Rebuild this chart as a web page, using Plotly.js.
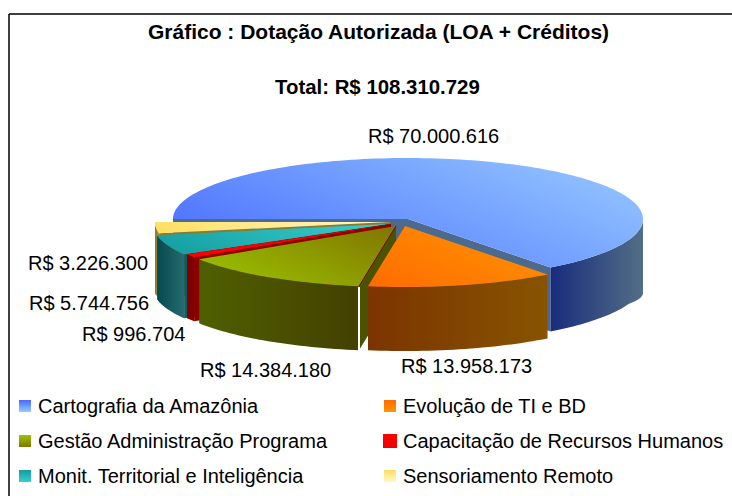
<!DOCTYPE html>
<html><head><meta charset="utf-8">
<script src="https://cdn.plot.ly/plotly-3.0.1.min.js"></script>
<style>html,body{margin:0;padding:0;background:#fff;overflow:hidden}</style>
</head><body><div id="chart" style="width:732px;height:496px"></div>
<script>
// ---- data ----
const categories = ["Cartografia da Amazônia","Evolução de TI e BD","Gestão Administração Programa","Capacitação de Recursos Humanos","Monit. Territorial e Inteligência","Sensoriamento Remoto"];
const values = [70000616,13958173,14384180,996704,5744756,3226300];
const titleLine = "Gráfico : Dotação Autorizada (LOA + Créditos)";
const totalLine = "Total: R$ 108.310.729";

// ---- styles / geometry ----
const topLow  = ["#4569ff","#ff6c00","#9cc600","#ff0000","#159c9f","#ffdf60"];
const topHigh = ["#98caff","#ff9600","#807600","#ee0000","#36cfcf","#fff8c4"];
const rimLow  = ["#182c7c","#7c3400","#4f6000","#800000","#064850","#8a7628"];
const rimHigh = ["#536e86","#875400","#444000","#800000","#256c6e","#a89440"];
const sideCol = ["#4d6a8c","#7c4000","#4a5400","#8b0000","#125c60","#8a7a30"];
const apex = [[408,219],[405,226],[396,226],[391,224],[388,224],[390,222]];
const rx = 235, ry = 61, depth = 64, startAngle = 180;
const labelPos = [[433,136],[466,366],[265,370],[133.5,334],[89,303],[88,263]];
const legendPos = [[25,406],[390,406],[25,441],[390,441],[25,476],[390,476]];
const FONT = "Liberation Sans, Arial, sans-serif";

const total = values.reduce((a,b)=>a+b,0);
const money = v => "R$ " + String(v).replace(/\B(?=(\d{3})+$)/g,".");
const rad = d => d*Math.PI/180;

let a = startAngle;
const slices = values.map((v,i)=>{const s={i,a0:a,a1:a+v/total*360,c:apex[i]};a=s.a1;return s;});

function extra(deg){ // the wall looks taller where it turns at the far left and right
  const n=((deg%360)+360)%360;
  const d=Math.min(n,360-n), w=Math.abs(180-n);
  return 10*Math.max(0,1-d/20)+7*Math.max(0,1-w/10);
}
function arc(s,from,to,dy){
  const n=Math.max(2,Math.ceil(Math.abs(to-from)/1.5)),xs=[],ys=[];
  for(let k=0;k<=n;k++){const t=from+(to-from)*k/n;
    xs.push(s.c[0]+rx*Math.cos(rad(t)));
    ys.push(s.c[1]+ry*Math.sin(rad(t))+(dy?depth+extra(t):0));}
  return [xs,ys];
}
function poly(x,y,c0,c1,dir){
  return {type:"scatter",mode:"none",x:x,y:y,fill:"toself",hoverinfo:"skip",showlegend:false,
    fillgradient:{type:"vertical",colorscale:[[0,c0],[1,c1]]},
    meta:{dir:dir||[1,0]}};
}
function topFace(s){const [x,y]=arc(s,s.a0,s.a1,false);
  return poly([s.c[0],...x,s.c[0]],[s.c[1],...y,s.c[1]],topLow[s.i],topHigh[s.i],[0.4,-0.9]);}
function rim(s,from,to){const [x,y]=arc(s,from,to,false),[x2,y2]=arc(s,to,from,true);
  return poly([...x,...x2],[...y,...y2],rimLow[s.i],rimHigh[s.i],[1,0]);}
function side(s,deg){const p=arc(s,deg,deg,false);const ex=p[0][0],ey=p[1][0];
  return poly([s.c[0],ex,ex,s.c[0]],[s.c[1],ey,ey+depth,s.c[1]+depth],sideCol[s.i],sideCol[s.i],[1,0]);}

const [B,O,G,R,T,Y]=slices;
const endB=B.a1-360;
const traces=[
  side(B,B.a0), side(B,endB), rim(B,0,endB), topFace(B),
  rim(Y,Y.a0,Y.a1), side(Y,Y.a0), topFace(Y),
  side(T,T.a0), rim(T,T.a0,T.a1), topFace(T),
  side(R,R.a1), side(R,R.a0), rim(R,R.a0,R.a1), topFace(R),
  side(G,G.a0), rim(G,G.a0,G.a1), topFace(G),
  side(O,O.a1), rim(O,O.a0,O.a1), topFace(O)
];
// thin dark red edge along the green slice
const gEdge=arc(G,G.a0,G.a0,false);
traces.push({type:"scatter",mode:"lines",x:[G.c[0],gEdge[0][0]],y:[G.c[1],gEdge[1][0]],line:{color:"#7a0000",width:1},hoverinfo:"skip",showlegend:false});
// legend swatches
categories.forEach((c,i)=>traces.push({type:"scatter",mode:"markers",name:c,x:[legendPos[i][0]],y:[legendPos[i][1]],hoverinfo:"skip",showlegend:false,
  marker:{symbol:"square",size:i===3?14:12,color:i===3?"#ff0000":topLow[i],gradient:{type:"vertical",color:topHigh[i]},line:{width:0}}}));

const ann=(x,y,text,size,bold,anchor)=>({x,y,xref:"x",yref:"y",text:bold?"<b>"+text+"</b>":text,showarrow:false,xanchor:anchor||"center",yanchor:"middle",font:{family:FONT,size:size,color:"#000"}});
const annotations=[ann(378,31,titleLine,21,true),ann(377.5,87,totalLine,20.4,true)];
values.forEach((v,i)=>annotations.push(ann(labelPos[i][0],labelPos[i][1],money(v),20)));
categories.forEach((c,i)=>annotations.push(ann(legendPos[i][0]+11,legendPos[i][1],c,20,false,"left")));

const layout={width:732,height:496,margin:{l:0,r:0,t:0,b:0},paper_bgcolor:"#fff",plot_bgcolor:"#fff",showlegend:false,
  xaxis:{range:[0,732],visible:false,fixedrange:true},yaxis:{range:[496,0],visible:false,fixedrange:true},
  annotations:annotations,
  shapes:[
    {type:"line",x0:9,x1:9,y0:14,y1:496,line:{color:"#000",width:1.5}},
    {type:"line",x0:9,x1:732,y0:14,y1:14,line:{color:"#000",width:1.5}},
    {type:"line",x0:359,x1:359,y0:287,y1:352,line:{color:"#fff",width:2},layer:"above"}
  ]};
Plotly.newPlot("chart",traces,layout,{displayModeBar:false,staticPlot:true}).then(gd=>{
  // aim each face's gradient along its lighting direction
  gd.querySelectorAll(".scatterlayer .trace").forEach((tr,i)=>{
    const p=tr.querySelector(".js-fill"); const d=gd.data[i]&&gd.data[i].meta&&gd.data[i].meta.dir;
    if(!p||!d) return;
    const m=/url\(["']?#([^"')]+)/.exec(p.style.fill||p.getAttribute("fill")||""); if(!m) return;
    const g=document.getElementById(m[1]); if(!g) return;
    const b=p.getBBox();
    const cx=b.x+b.width/2,cy=b.y+b.height/2,h=(Math.abs(d[0])*b.width+Math.abs(d[1])*b.height)/2;
    g.setAttribute("gradientUnits","userSpaceOnUse");
    g.setAttribute("x1",cx-d[0]*h);g.setAttribute("y1",cy-d[1]*h);
    g.setAttribute("x2",cx+d[0]*h);g.setAttribute("y2",cy+d[1]*h);
  });
});
</script></body></html>
